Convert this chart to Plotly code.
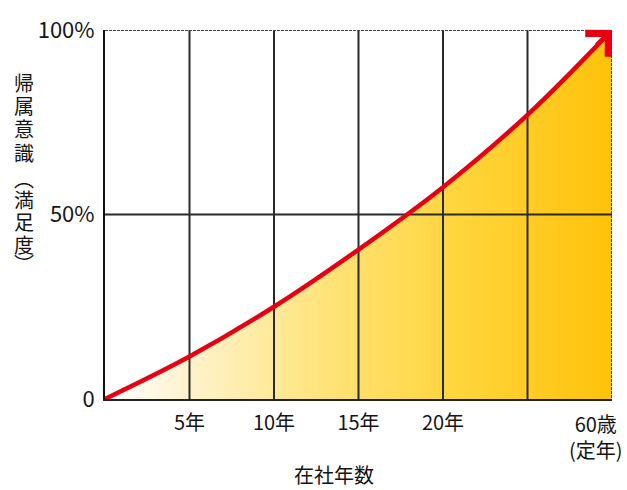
import plotly.graph_objects as go

# ---- data ----
years = [0, 5, 10, 15, 20, 25, 30]
satisfaction = [0, 11.5, 25, 40.5, 57.4, 77, 100]

x_tickvals = [5, 10, 15, 20, 25]
x_ticktext = ["5年", "10年", "15年", "20年", ""]
end_label = "60歳<br>(定年)"
end_val = 30

y_tickvals = [0, 50, 100]
y_ticktext = ["0", "50%", "100%"]
grid_y = [50]

y_title = "帰属意識︵満足度︶"
x_title = "在社年数"

FONT = "Noto Sans CJK JP"
RED = "#E60012"
TXT = "#151515"

fig = go.Figure()

# gradient fill under the curve
fig.add_trace(go.Scatter(
    x=years, y=satisfaction, mode="lines", line=dict(width=0, shape="spline"),
    fill="tozeroy",
    fillgradient=dict(type="horizontal",
                      colorscale=[[0, "#FFFFFF"], [0.15, "#FFF4D2"], [0.45, "#FFE275"],
                                  [0.7, "#FFD53C"], [1, "#FFC20A"]]),
    hoverinfo="skip", showlegend=False))

# grid lines drawn above the fill
gx, gy = [], []
for v in x_tickvals:
    gx += [v, v, None]
    gy += [0, 100, None]
for v in grid_y:
    gx += [0, end_val, None]
    gy += [v, v, None]
fig.add_trace(go.Scatter(x=gx, y=gy, mode="lines", line=dict(color="#2a2a2a", width=2),
                         hoverinfo="skip", showlegend=False))

# top / right borders (dotted)
fig.add_trace(go.Scatter(x=[0, end_val, end_val], y=[100, 100, 0], mode="lines",
                         line=dict(color="#444444", width=2, dash="3px,1px"),
                         hoverinfo="skip", showlegend=False))

# red curve
fig.add_trace(go.Scatter(x=years, y=satisfaction, mode="lines",
                         line=dict(color=RED, width=4.5, shape="spline"),
                         cliponaxis=False, hoverinfo="skip", showlegend=False))

# arrow head at the end of the curve
fig.add_annotation(x=years[-1], y=satisfaction[-1], xref="x", yref="y",
                   ax=years[-1] - 1, ay=satisfaction[-1] - 4.5, axref="x", ayref="y",
                   showarrow=True, arrowhead=4, arrowsize=1.4, arrowwidth=4.5,
                   arrowcolor=RED, text="", standoff=0)

# end label (60歳 / 定年)
fig.add_annotation(x=end_val, y=0, xref="x", yref="y", text=end_label,
                   showarrow=False, xanchor="center", yanchor="top",
                   xshift=-16, yshift=-8,
                   font=dict(family=FONT, size=20, color=TXT))

# y-axis title (vertical, one character per line); pixel centres of each glyph
plot_top, plot_h = 26, 373
char_centres = [79, 102, 126, 150, 176, 197, 220, 243, 262]
for ch, yc in zip(y_title, char_centres):
    fig.add_annotation(x=-0.160, y=1 - (yc - plot_top) / plot_h, xref="paper", yref="paper",
                       text=ch, showarrow=False, xanchor="center", yanchor="middle",
                       borderpad=0,
                       font=dict(family=FONT, size=20, color=TXT))

# x-axis title
fig.add_annotation(x=0.452, y=-0.204, xref="paper", yref="paper",
                   text=x_title, showarrow=False, xanchor="center", yanchor="middle",
                   font=dict(family=FONT, size=20, color=TXT))

fig.update_xaxes(range=[0, end_val], tickvals=x_tickvals, ticktext=x_ticktext,
                 showgrid=False, zeroline=False, showline=True, linecolor="#222222",
                 linewidth=2, layer="above traces", ticks="", ticklabelstandoff=5,
                 tickfont=dict(family=FONT, size=20, color=TXT), fixedrange=True)
fig.update_yaxes(range=[0, 100], tickvals=y_tickvals, ticktext=y_ticktext,
                 showgrid=False, zeroline=False, showline=True, linecolor="#111111",
                 linewidth=2, layer="above traces", ticks="", ticklabelstandoff=4,
                 tickfont=dict(family=FONT, size=22, color=TXT), fixedrange=True)

fig.update_layout(width=627, height=490, margin=dict(l=105, r=15, t=26, b=91),
                  plot_bgcolor="white", paper_bgcolor="white", showlegend=False)

fig.write_html("out.html", config={"displayModeBar": False})
